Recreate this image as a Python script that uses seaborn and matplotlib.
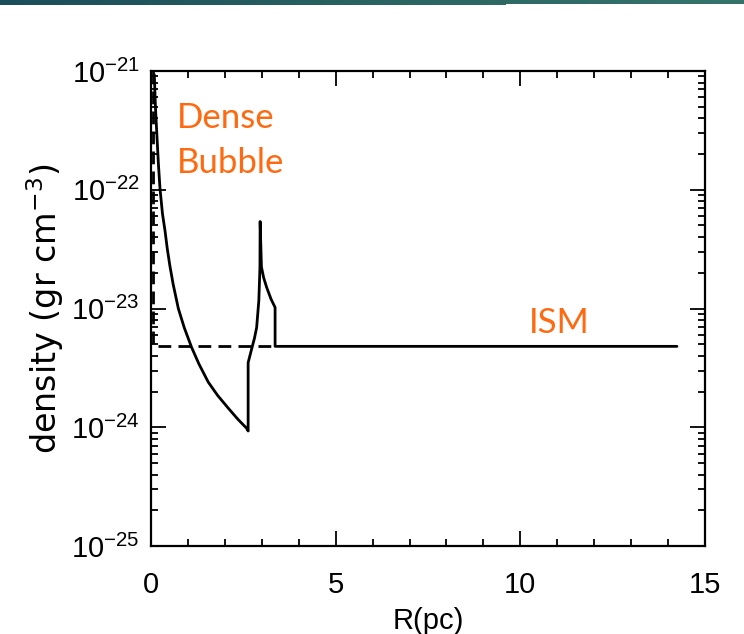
import numpy as np
import pandas as pd
import matplotlib
matplotlib.use("Agg")
import matplotlib.pyplot as plt
from matplotlib.ticker import MultipleLocator, LogLocator, NullFormatter
from matplotlib.colors import LinearSegmentedColormap
import seaborn as sns

# Evolved density profile (solid): radius in pc, density in g cm^-3
r_evolved = [0.09, 0.12, 0.154, 0.20, 0.244, 0.31, 0.38, 0.44, 0.51, 0.60, 0.74, 0.90,
             1.10, 1.30, 1.55, 1.80, 2.09, 2.35, 2.59, 2.63,
             2.63, 2.72, 2.80, 2.86, 2.92, 2.95, 2.955, 2.99, 3.05, 3.13, 3.25, 3.36,
             3.36, 14.24]
rho_evolved = [9.3e-22, 5.0e-22, 3.1e-22, 1.66e-22, 1.02e-22, 6.3e-23, 4.5e-23, 3.2e-23,
               2.3e-23, 1.6e-23, 1.0e-23, 6.9e-24,
               4.7e-24, 3.4e-24, 2.4e-24, 1.86e-24, 1.45e-24, 1.17e-24, 9.8e-25, 9.3e-25,
               3.5e-24, 4.5e-24, 5.6e-24, 6.9e-24, 1.17e-23, 2.24e-23, 5.4e-23, 2.24e-23,
               1.82e-23, 1.51e-23, 1.2e-23, 1.02e-23,
               4.8e-24, 4.8e-24]

# Initial profile (dashed): dense bubble edge, then uniform ISM
r_initial = [0.05, 0.05, 3.36]
rho_initial = [1.0e-21, 4.8e-24, 4.8e-24]

x_ticks = [0, 5, 10, 15]
y_ticks = [1e-25, 1e-24, 1e-23, 1e-22, 1e-21]
y_ticklabels = [r"$10^{-25}$", r"$10^{-24}$", r"$10^{-23}$", r"$10^{-22}$", r"$10^{-21}$"]

orange = "#ff6a10"

sns.set_style("ticks")
plt.rcParams["font.family"] = ["Liberation Sans", "DejaVu Sans"]
plt.rcParams["mathtext.fontset"] = "custom"
plt.rcParams["mathtext.rm"] = "Liberation Sans"
plt.rcParams["mathtext.it"] = "Liberation Sans"
plt.rcParams["mathtext.default"] = "regular"
plt.rcParams["text.color"] = "black"
plt.rcParams["axes.labelcolor"] = "black"
plt.rcParams["xtick.color"] = "black"
plt.rcParams["ytick.color"] = "black"

fig = plt.figure(figsize=(7.44, 6.34), dpi=100)
fig.patch.set_facecolor("white")
ax = fig.add_axes([151 / 744, 1 - 546 / 634, 554 / 744, 475 / 634])

df_evolved = pd.DataFrame({"R": r_evolved, "rho": rho_evolved})
df_initial = pd.DataFrame({"R": r_initial, "rho": rho_initial})

sns.lineplot(data=df_initial, x="R", y="rho", sort=False, estimator=None, ax=ax,
             color="black", lw=2.0, linestyle=(0, (4.6, 2.6)))
sns.lineplot(data=df_evolved, x="R", y="rho", sort=False, estimator=None, ax=ax,
             color="black", lw=2.0)

ax.set_yscale("log")
ax.set_xlim(0, 15)
ax.set_ylim(1e-25, 1e-21)

ax.set_xticks(x_ticks)
ax.set_xticklabels([str(t) for t in x_ticks])
ax.xaxis.set_minor_locator(MultipleLocator(1))
ax.set_yticks(y_ticks)
ax.set_yticklabels(y_ticklabels)
ax.yaxis.set_minor_locator(LogLocator(base=10, subs=np.arange(2, 10)))
ax.yaxis.set_minor_formatter(NullFormatter())

ax.tick_params(which="both", direction="in", top=True, right=True, color="black",
               width=1.3, labelcolor="black")
ax.tick_params(which="major", length=11, labelsize=21)
ax.tick_params(which="minor", length=5)
ax.tick_params(axis="x", which="major", pad=18)
ax.tick_params(axis="y", which="major", pad=8)

for s in ax.spines.values():
    s.set_linewidth(1.6)
    s.set_color("black")
    s.set_visible(True)

ax.set_xlabel("R(pc)", fontsize=21, labelpad=6)
ax.set_ylabel(r"density (gr cm$^{-3}$)", fontsize=24, labelpad=4,
              family="DejaVu Sans")

text_kw = dict(color=orange, fontsize=25, family=["Lato", "DejaVu Sans"],
               fontweight="normal", transform=ax.transAxes, va="baseline", ha="left")
ax.text(0.047, 0.880, "Dense", **text_kw)
ax.text(0.047, 0.785, "Bubble", **text_kw)
ax.text(0.682, 0.448, "ISM", **text_kw)

# Teal banner across the top edge
cmap = LinearSegmentedColormap.from_list("teal", ["#1b4c5a", "#2a6361", "#36746a"])
grad = np.linspace(0, 1, 256).reshape(1, -1)
band1 = fig.add_axes([0, 1 - 5 / 634, 506 / 744, 5 / 634])
band1.imshow(grad[:, :174], aspect="auto", cmap=cmap, vmin=0, vmax=1)
band1.axis("off")
band2 = fig.add_axes([506 / 744, 1 - 4 / 634, 238 / 744, 4 / 634])
band2.imshow(grad[:, 174:], aspect="auto", cmap=cmap, vmin=0, vmax=1)
band2.axis("off")

fig.savefig("out.png", dpi=100, facecolor="white")
